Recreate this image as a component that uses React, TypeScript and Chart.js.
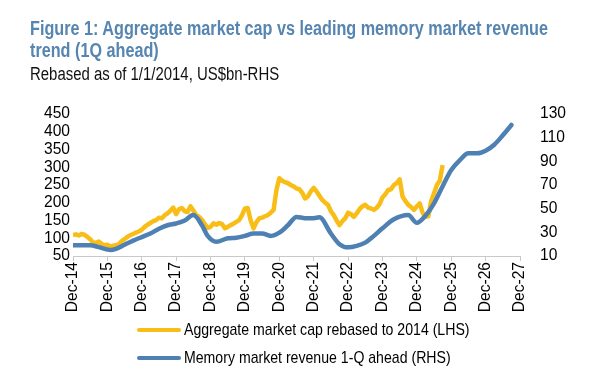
import React, { useEffect, useRef } from "react";
import { Chart, registerables } from "chart.js";

Chart.register(...registerables);

// ---- data ----
const xTickLabels = ["Dec-14","Dec-15","Dec-16","Dec-17","Dec-18","Dec-19","Dec-20","Dec-21","Dec-22","Dec-23","Dec-24","Dec-25","Dec-26","Dec-27"];

// Aggregate market cap (LHS), monthly from Dec-14 (month 0) to Sep-25 (month 129)
const marketCap = [
  109,111,108,112,110,104,97,88,86,91,84,80,
  82,76,79,80,83,92,98,104,109,112,116,119,
  124,132,138,143,148,151,158,156,165,170,178,186,
  168,182,185,176,174,190,178,165,160,152,140,129,
  132,142,138,143,140,128,132,137,141,146,151,165,
  184,185,150,128,145,156,158,162,165,172,180,236,
  269,262,258,255,250,246,240,238,228,212,218,232,
  242,232,220,208,200,194,176,165,150,137,148,156,
  172,168,160,170,182,190,194,186,184,180,186,196,
  215,224,236,238,250,256,266,218,205,194,188,180,
  190,198,172,160,162,205,227,250,262,306
];

// Memory market revenue 1-Q ahead (RHS): month offsets from Dec-14 and values
const revenueMonths = [0,3,6,9,12,13,15,18,21,23,24,27,30,33,36,39,42,45,47,50,54,57,60,63,66,69,72,75,78,81,84,86,90,93,96,99,102,105,108,112,117,120,123,126,129,132,135,138,141,144,147,150,153];
const revenueValues = [19,19,19,17.5,15.5,15,16,19.5,23,25,26,29,33,36,37.5,40,44.6,36,27,22,25,25.5,27,29,29,27,29.7,36,43,42,42,42.7,29,20,17.3,18.5,21.3,27,33.4,41,44.6,38,44,54.5,69,82.7,91,96.8,96.8,99,104,112,120.7];

const leftTicks = [50,100,150,200,250,300,350,400,450];
const rightTicks = [10,30,50,70,90,110,130];

const YELLOW = "#f8be17";
const BLUE = "#4f80b3";
const FONT = '"Liberation Sans", Arial, sans-serif';
const TICK_SIZE = 15.6;

export default function App() {
  const ref = useRef<HTMLCanvasElement | null>(null);

  useEffect(() => {
    if (!ref.current) return;
    const chart = new Chart(ref.current, {
      type: "line",
      data: {
        datasets: [
          {
            label: "Aggregate market cap rebased to 2014 (LHS)",
            data: marketCap.map((v, i) => ({ x: i, y: v })),
            yAxisID: "yL",
            borderColor: YELLOW,
            backgroundColor: YELLOW,
            borderWidth: 4.5,
            pointRadius: 0,
            tension: 0,
            borderJoinStyle: "round",
            order: 2,
          },
          {
            label: "Memory market revenue 1-Q ahead (RHS)",
            data: revenueMonths.map((m, i) => ({ x: m, y: revenueValues[i] })),
            yAxisID: "yR",
            borderColor: BLUE,
            backgroundColor: BLUE,
            borderWidth: 4.5,
            pointRadius: 0,
            cubicInterpolationMode: "monotone",
            borderCapStyle: "round",
            order: 1,
          },
        ],
      },
      options: {
        animation: false,
        responsive: false,
        maintainAspectRatio: false,
        layout: { padding: { left: 0, right: 0, top: 114, bottom: 0 } },
        plugins: { legend: { display: false }, tooltip: { enabled: false }, title: { display: false } },
        scales: {
          x: {
            type: "linear",
            min: 0,
            max: 156,
            afterBuildTicks: (s: any) => {
              s.ticks = xTickLabels.map((_, i) => ({ value: i * 12 }));
            },
            ticks: {
              autoSkip: false,
              maxRotation: 90,
              minRotation: 90,
              color: "#000",
              font: { family: FONT, size: TICK_SIZE },
              padding: 1,
              callback: (v: any) => xTickLabels[Math.round(Number(v) / 12)],
            },
            grid: { display: true, drawOnChartArea: false, drawTicks: true, tickLength: 5, color: "#c9c9c9", lineWidth: 1 },
            border: { display: true, color: "#c9c9c9", width: 1 },
            afterFit: (s: any) => { s.height = 126; },
          },
          yL: {
            type: "linear",
            position: "left",
            min: 50,
            max: 450,
            afterBuildTicks: (s: any) => { s.ticks = leftTicks.map((v) => ({ value: v })); },
            ticks: { autoSkip: false, color: "#000", font: { family: FONT, size: TICK_SIZE }, padding: 3 },
            grid: { display: false, drawTicks: false },
            border: { display: false },
            afterFit: (s: any) => { s.width = 73; },
          },
          yR: {
            type: "linear",
            position: "right",
            min: 10,
            max: 130,
            afterBuildTicks: (s: any) => { s.ticks = rightTicks.map((v) => ({ value: v })); },
            ticks: { autoSkip: false, color: "#000", font: { family: FONT, size: TICK_SIZE }, padding: 20 },
            grid: { display: false, drawTicks: false },
            border: { display: false },
            afterFit: (s: any) => { s.width = 93; },
          },
        },
      },
    });
    return () => chart.destroy();
  }, []);

  const narrow: React.CSSProperties = { display: "inline-block", transform: "scaleX(0.83)", transformOrigin: "left center", whiteSpace: "nowrap" };

  return (
    <div style={{ position: "absolute", left: 0, top: 0, width: 613, height: 382, background: "#fff", overflow: "hidden", fontFamily: FONT }}>
      <canvas ref={ref} width={613} height={382} style={{ position: "absolute", left: 0, top: 0, width: 613, height: 382 }} />
      <div style={{ position: "absolute", left: 30, top: 17, color: "#5585b0", fontWeight: "bold", fontSize: 20, lineHeight: "22px", whiteSpace: "nowrap", transform: "scaleX(0.81)", transformOrigin: "left top" }}>
        Figure 1: Aggregate market cap vs leading memory market revenue<br />trend (1Q ahead)
      </div>
      <div style={{ position: "absolute", left: 30, top: 64, color: "#111", fontSize: 18, lineHeight: "20px", whiteSpace: "nowrap", transform: "scaleX(0.83)", transformOrigin: "left top" }}>
        Rebased as of 1/1/2014, US$bn-RHS
      </div>
      <div style={{ position: "absolute", left: 137, top: 320, fontSize: 17, lineHeight: "20px", color: "#000" }}>
        <div style={{ display: "flex", alignItems: "center", height: 20 }}>
          <span style={{ display: "inline-block", width: 44, height: 4, borderRadius: 2, background: YELLOW, marginRight: 3, flex: "none" }} />
          <span style={narrow}>Aggregate market cap rebased to 2014 (LHS)</span>
        </div>
        <div style={{ display: "flex", alignItems: "center", height: 20, marginTop: 8 }}>
          <span style={{ display: "inline-block", width: 44, height: 4, borderRadius: 2, background: BLUE, marginRight: 3, flex: "none" }} />
          <span style={narrow}>Memory market revenue 1-Q ahead (RHS)</span>
        </div>
      </div>
    </div>
  );
}
